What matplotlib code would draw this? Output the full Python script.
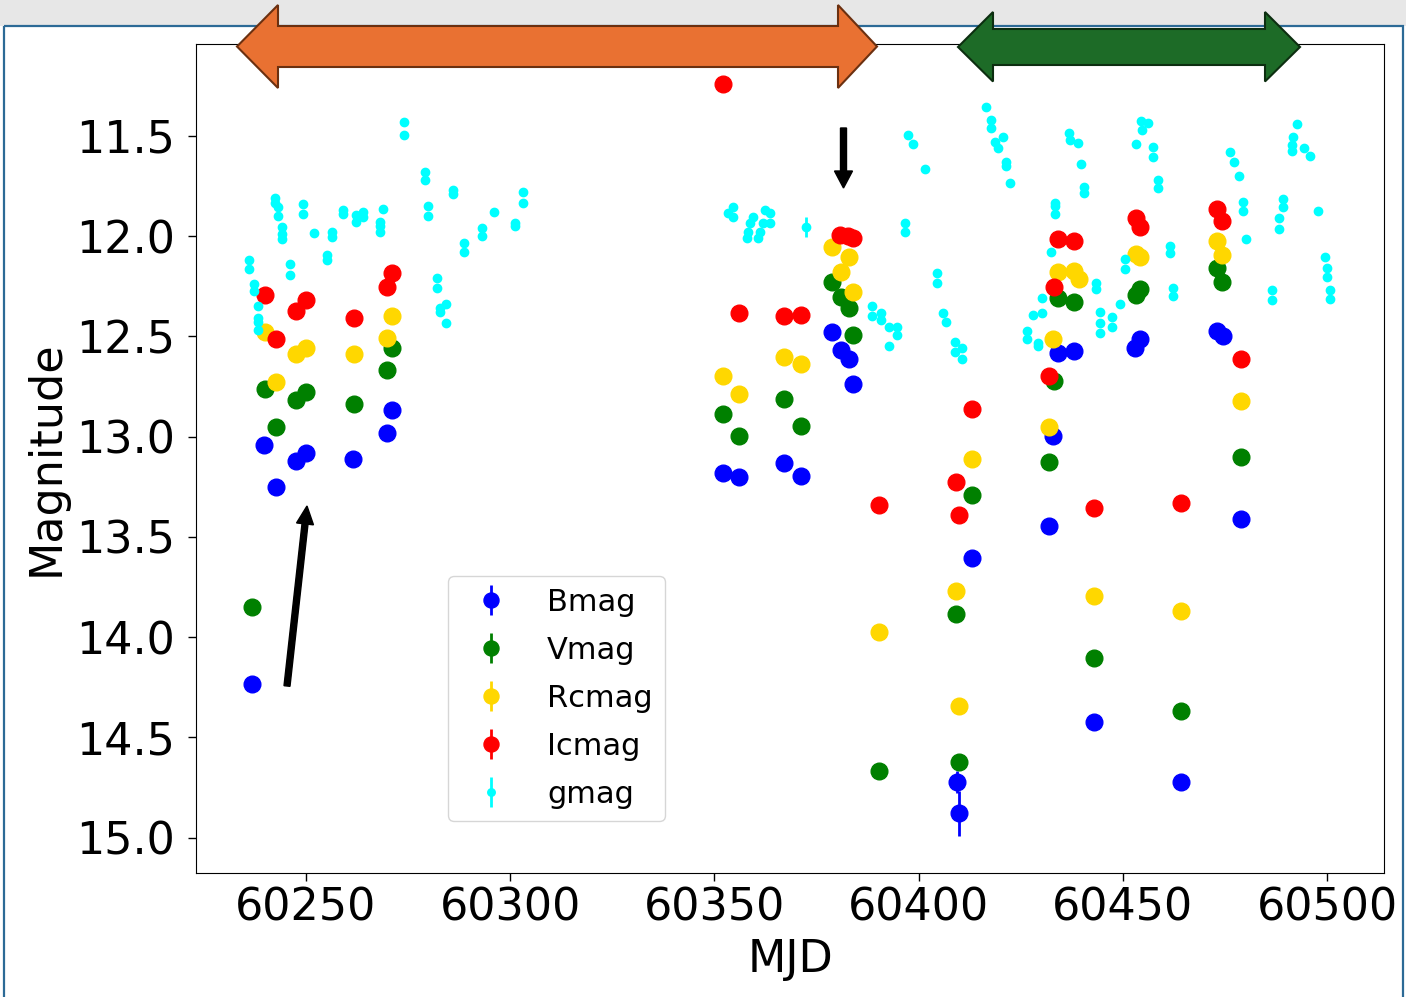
import matplotlib
matplotlib.use("Agg")
import matplotlib.pyplot as plt
from matplotlib.patches import Polygon, Rectangle, FancyArrow
from matplotlib.transforms import Affine2D

# ---------------- photometry ----------------
b_mjd = [60236.8, 60239.7, 60242.7, 60247.7, 60250.0, 60261.6, 60269.9, 60271.1,
         60352.2, 60356.0, 60367.0, 60371.2, 60378.8, 60380.9, 60383.0, 60384.0,
         60409.3, 60409.9, 60413.1, 60432.0, 60432.9, 60434.2, 60438.1, 60443.0,
         60452.9, 60454.1, 60464.1, 60473.0, 60474.4, 60478.9]
b_mag = [14.234, 13.04, 13.25, 13.12, 13.08, 13.11, 12.98, 12.87,
         13.18, 13.20, 13.134, 13.195, 12.477, 12.569, 12.615, 12.738,
         14.725, 14.88, 13.604, 13.446, 12.995, 12.584, 12.574, 14.426,
         12.557, 12.512, 14.722, 12.474, 12.50, 13.413]
b_err = [0.01, 0.01, 0.01, 0.01, 0.01, 0.01, 0.01, 0.01,
         0.01, 0.01, 0.01, 0.01, 0.01, 0.01, 0.01, 0.01,
         0.055, 0.11, 0.01, 0.01, 0.01, 0.01, 0.01, 0.01,
         0.01, 0.01, 0.01, 0.01, 0.01, 0.01]

v_mjd = [60236.8, 60239.9, 60242.8, 60247.7, 60250.0, 60261.75, 60269.9, 60271.1,
         60352.2, 60356.0, 60367.0, 60371.2, 60378.8, 60380.9, 60383.0, 60384.0,
         60390.3, 60409.1, 60409.9, 60413.1, 60432.0, 60433.0, 60434.2, 60438.1,
         60443.0, 60453.1, 60454.2, 60464.1, 60473.1, 60474.3, 60478.9]
v_mag = [13.85, 12.763, 12.954, 12.82, 12.78, 12.838, 12.67, 12.56,
         12.888, 12.996, 12.813, 12.946, 12.228, 12.303, 12.36, 12.494,
         14.667, 13.885, 14.625, 13.292, 13.129, 12.723, 12.311, 12.328,
         14.107, 12.294, 12.266, 14.369, 12.161, 12.228, 13.101]

rc_mjd = [60239.9, 60242.8, 60247.7, 60250.0, 60261.75, 60269.9, 60271.1,
          60352.2, 60356.0, 60367.0, 60371.2, 60378.7, 60380.9, 60383.0, 60383.8,
          60390.3, 60409.1, 60409.9, 60413.1, 60432.0, 60432.8, 60434.2, 60438.1,
          60439.3, 60443.0, 60453.1, 60454.2, 60464.1, 60473.1, 60474.3, 60478.9]
rc_mag = [12.48, 12.73, 12.59, 12.557, 12.59, 12.507, 12.40,
          12.697, 12.788, 12.605, 12.638, 12.057, 12.178, 12.106, 12.278,
          13.975, 13.769, 14.344, 13.111, 12.951, 12.515, 12.178, 12.173,
          12.214, 13.794, 12.09, 12.106, 13.869, 12.023, 12.095, 12.821]

ic_mjd = [60239.9, 60242.8, 60247.7, 60250.0, 60261.75, 60269.9, 60271.1,
          60352.2, 60356.0, 60367.0, 60371.2, 60380.7, 60382.6, 60383.8,
          60390.3, 60409.1, 60409.9, 60413.1, 60432.0, 60433.0, 60434.2, 60438.1,
          60443.0, 60453.1, 60454.2, 60464.1, 60473.1, 60474.3, 60478.9]
ic_mag = [12.294, 12.515, 12.374, 12.319, 12.409, 12.253, 12.186,
          11.242, 12.386, 12.40, 12.394, 11.995, 12.0, 12.01,
          13.342, 13.225, 13.392, 12.864, 12.698, 12.253, 12.015, 12.023,
          13.357, 11.912, 11.957, 13.33, 11.865, 11.925, 12.615]

g_mjd = [60236.05, 60236.05, 60237.3, 60237.3, 60238.2, 60238.2, 60238.2, 60238.2,
         60242.4, 60242.4, 60243.2, 60243.2, 60244.1, 60244.1, 60244.1, 60246.2,
         60246.2, 60249.2, 60249.2, 60252.0, 60255.1, 60255.1, 60256.3, 60256.3,
         60259.2, 60259.2, 60262.2, 60262.2, 60263.9, 60263.9, 60268.1, 60268.1,
         60268.1, 60268.9, 60274.0, 60274.0, 60279.1, 60279.1, 60280.0, 60280.0,
         60282.0, 60282.0, 60282.8, 60282.8, 60284.3, 60284.3, 60285.9, 60285.9,
         60288.7, 60288.7, 60293.0, 60293.0, 60296.0, 60301.2, 60301.2, 60303.2,
         60303.2,
         60353.4, 60354.6, 60354.6, 60357.9, 60358.3, 60358.7, 60359.5, 60360.7,
         60361.1, 60362.0, 60362.4, 60363.6, 60363.6, 60372.3, 60388.5, 60388.5,
         60390.7, 60390.7, 60392.8, 60392.8, 60394.6, 60394.6, 60396.6, 60396.6,
         60397.4, 60398.7, 60401.6, 60404.5, 60404.5, 60406.0, 60406.7, 60408.9,
         60408.9, 60410.5, 60410.5, 60416.5, 60417.7, 60417.7, 60418.7, 60419.5,
         60420.7, 60421.4, 60421.4, 60422.4, 60426.6, 60426.6, 60428.0, 60429.3,
         60429.3, 60430.3, 60430.3, 60432.5, 60433.3, 60433.3, 60433.3, 60436.7,
         60437.1, 60438.9, 60439.7, 60440.5, 60440.5, 60443.4, 60443.4, 60444.4,
         60444.4, 60444.4, 60447.2, 60447.2, 60449.3, 60450.5, 60450.5, 60453.1,
         60454.3, 60454.6, 60456.2, 60457.4, 60457.4, 60458.6, 60458.6, 60461.5,
         60461.5, 60462.3, 60462.3, 60476.2, 60477.3, 60478.5, 60479.5, 60479.5,
         60480.2, 60486.6, 60486.6, 60488.2, 60488.2, 60489.1, 60489.1, 60491.3,
         60491.3, 60491.7, 60492.5, 60494.3, 60495.7, 60497.7, 60499.5, 60499.9,
         60499.9, 60500.7, 60500.7]
g_mag = [12.12, 12.166, 12.24, 12.274, 12.35, 12.41, 12.43, 12.47,
         11.81, 11.837, 11.854, 11.90, 11.953, 11.99, 12.015, 12.14,
         12.195, 11.84, 11.89, 11.984, 12.095, 12.12, 11.98, 12.003,
         11.87, 11.89, 11.895, 11.93, 11.88, 11.907, 11.93, 11.95,
         11.98, 11.865, 11.43, 11.496, 11.68, 11.72, 11.85, 11.90,
         12.21, 12.26, 12.36, 12.38, 12.34, 12.435, 11.77, 11.79,
         12.036, 12.08, 11.96, 12.0, 11.88, 11.933, 11.95, 11.78,
         11.837,
         11.884, 11.854, 11.904, 12.012, 11.98, 11.937, 11.904, 12.012,
         11.98, 11.937, 11.87, 11.887, 11.934, 11.953, 12.35, 12.40,
         12.386, 12.42, 12.452, 12.549, 12.452, 12.494, 11.937, 11.98,
         11.496, 11.54, 11.666, 12.186, 12.233, 12.386, 12.427, 12.527,
         12.577, 12.56, 12.615, 11.355, 11.421, 11.463, 11.53, 11.563,
         11.505, 11.63, 11.65, 11.737, 12.472, 12.515, 12.394, 12.535,
         12.55, 12.311, 12.386, 12.081, 11.834, 11.85, 11.892, 11.488,
         11.521, 11.535, 11.641, 11.754, 11.784, 12.233, 12.266, 12.378,
         12.435, 12.485, 12.406, 12.452, 12.339, 12.116, 12.166, 11.541,
         11.425, 11.471, 11.435, 11.558, 11.605, 11.721, 11.762, 12.05,
         12.083, 12.261, 12.299, 11.58, 11.629, 11.70, 11.832, 11.875,
         12.017, 12.269, 12.319, 11.909, 11.967, 11.817, 11.857, 11.546,
         11.575, 11.505, 11.443, 11.563, 11.60, 11.875, 12.103, 12.158,
         12.203, 12.269, 12.316]
g_err = [0.05 if m == 60372.3 else 0.01 for m in g_mjd]

series = [
    ("Bmag", b_mjd, b_mag, b_err, "blue", 12),
    ("Vmag", v_mjd, v_mag, 0.01, "green", 12),
    ("Rcmag", rc_mjd, rc_mag, 0.01, "gold", 12),
    ("Icmag", ic_mjd, ic_mag, 0.01, "red", 12),
    ("gmag", g_mjd, g_mag, g_err, "cyan", 6),
]

y_ticks = [11.5, 12.0, 12.5, 13.0, 13.5, 14.0, 14.5, 15.0]
x_ticks = [60250, 60300, 60350, 60400, 60450, 60500]

# ---------------- figure ----------------
W, H = 1406, 997
fig = plt.figure(figsize=(W / 100, H / 100), dpi=100, facecolor="white")
px = Affine2D().scale(1.0 / W, -1.0 / H).translate(0, 1) + fig.transFigure

# slide backdrop
fig.add_artist(Rectangle((0, 0), W, 26, transform=px, facecolor="#E7E7E7",
                         edgecolor="none", zorder=0))
fig.add_artist(Rectangle((4, 26), 1399, 990, transform=px, facecolor="none",
                         edgecolor="#2C6A96", linewidth=1.6, zorder=1))

ax = fig.add_axes([196 / W, 1 - 873 / H, (1384 - 196) / W, (873 - 44) / H])
for name, x, y, e, c, ms in series:
    ax.errorbar(x, y, yerr=e, fmt="o", color=c, ecolor=c, markersize=ms,
                elinewidth=2, capsize=0, label=name)

ax.set_xlim(60223.1, 60513.9)
ax.set_ylim(15.177, 11.042)
ax.set_xticks(x_ticks)
ax.set_yticks(y_ticks)
ax.tick_params(labelsize=32, length=6, width=1)
ax.tick_params(axis="y", pad=9)
ax.set_xlabel("MJD", fontsize=32, labelpad=6)
ax.set_ylabel("Magnitude", fontsize=32, labelpad=6)

ax.legend(loc="lower left", bbox_to_anchor=(0.212, 0.063), borderaxespad=0,
          fontsize=22, labelspacing=0.62, handletextpad=0.85, markerscale=0.9,
          frameon=True)

# campaign ranges
orange = [(237, 46.5), (278, 5), (278, 26), (838, 26), (838, 5), (877, 46.5),
          (838, 88), (838, 67), (278, 67), (278, 88)]
green = [(958, 47), (993, 12), (993, 29), (1265, 29), (1265, 12), (1300, 47),
         (1265, 81.5), (1265, 65), (993, 65), (993, 81.5)]
fig.add_artist(Polygon(orange, closed=True, transform=px, facecolor="#E97132",
                       edgecolor="#6B3010", linewidth=1.5, zorder=5))
fig.add_artist(Polygon(green, closed=True, transform=px, facecolor="#1D6B27",
                       edgecolor="#0C2E10", linewidth=1.5, zorder=5))

# pointers
fig.add_artist(FancyArrow(843.5, 128, 0, 60, width=6, head_width=18,
                          head_length=17, length_includes_head=True,
                          transform=px, color="black", zorder=5))
fig.add_artist(FancyArrow(287, 686, 20, -180, width=6, head_width=17,
                          head_length=18, length_includes_head=True,
                          transform=px, color="black", zorder=5))

fig.savefig("out.png", dpi=100)
